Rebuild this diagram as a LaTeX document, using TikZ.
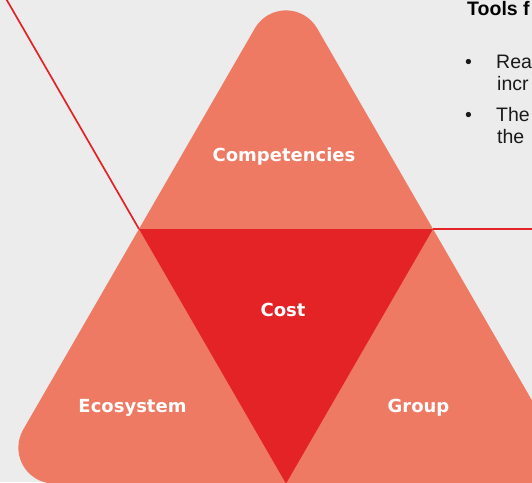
\documentclass[tikz,border=0pt]{standalone}
\usepackage{fontspec}
\usetikzlibrary{calc}
\setmainfont{Liberation Sans}
\newfontfamily\labelfont{DejaVu Sans}
\definecolor{bg}{HTML}{ECECEC}
\definecolor{salmon}{HTML}{EF7A64}
\definecolor{cred}{HTML}{E42327}
\definecolor{ink}{HTML}{1A1A1A}
\begin{document}
\begin{tikzpicture}[x=1pt,y=1pt,
  lab/.style={font=\labelfont\bfseries\fontsize{18}{22}\selectfont, text=white, inner sep=0pt, anchor=base},
  txt/.style={font=\fontsize{19.5}{22}\selectfont, inner sep=0pt, anchor=base west, text=ink},
  headtxt/.style={font=\bfseries\fontsize{19.5}{22}\selectfont, inner sep=0pt, anchor=base west, text=black},
  redline/.style={draw=cred, line width=1.7pt}]
\useasboundingbox (0,0) rectangle (532,-482);
\fill[bg] (0,0) rectangle (532,-482);
\clip (0,0) rectangle (532,-482);
\coordinate (L) at (139,-229);
\coordinate (R) at (433,-229);
\coordinate (B) at (286,-483.61);
% outer salmon triangle with rounded corners
\fill[salmon] (254.82,-28.39) arc[start angle=150,end angle=30,radius=36]
  -- (580,-483.61) -- (54.35,-483.61) arc[start angle=270,end angle=150,radius=36] -- cycle;
% inner red triangle
\fill[cred] (L) -- (R) -- (B) -- cycle;
% red lines
\coordinate (Lend) at ($(L)+(120:300)$);
\coordinate (Rend) at (545,-229);
\draw[redline] (L) -- (Lend);
\draw[redline] (R) -- (Rend);
% labels
\node[lab] (comp) at (284,-161) {Competencies};
\node[lab] (cost) at (283,-316.5) {Cost};
\node[lab] (eco) at (132.5,-412.5) {Ecosystem};
\node[lab] (grp) at (418.5,-412.5) {Group};
% side text
\node[headtxt] (head) at (467,-15) {Tools f};
\node[txt] (b1) at (465,-68) {\textbullet};
\node[txt] (t1) at (496,-68) {Reap};
\node[txt] (t2) at (497,-90) {incr};
\node[txt] (b2) at (465,-121) {\textbullet};
\node[txt] (t3) at (496,-121) {The};
\node[txt] (t4) at (497,-143) {the};
\end{tikzpicture}
\end{document}
